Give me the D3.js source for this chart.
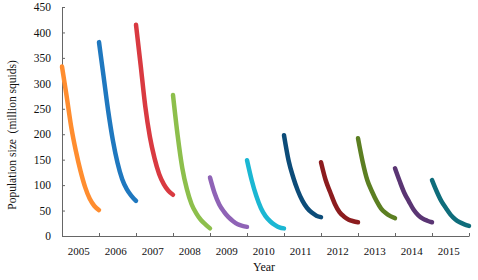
<!DOCTYPE html>
<html>
<head>
<meta charset="utf-8">
<script src="https://cdn.jsdelivr.net/npm/d3@7"></script>
<style>
  body { margin: 0; background: #fff; }
  svg text { font-family: "Liberation Serif", "Times New Roman", serif; fill: #111; }
</style>
</head>
<body>
<div class="chart"></div>
<script>
// Fraction of the year at which each value is sampled
const yearFrac = [0, 0.125, 0.25, 0.375, 0.5, 0.625, 0.75, 0.875, 1]

// Years shown on the x axis
const years = [2005, 2006, 2007, 2008, 2009, 2010, 2011, 2012, 2013, 2014, 2015]

// Population size (million squids) through each season
const pop2005 = [333, 275, 214, 167, 128, 96, 73, 59, 51]
const pop2006 = [381, 313, 245, 188, 144, 112, 92, 79, 69]
const pop2007 = [415, 336, 255, 195, 153, 122, 102, 89, 81]
const pop2008 = [277, 198, 134, 92, 63, 45, 32, 23, 15]
const pop2009 = [115, 84, 62, 48, 37, 29, 23, 20, 18]
const pop2010 = [149, 110, 79, 55, 39, 29, 22, 17, 15]
const pop2011 = [198, 148, 115, 89, 69, 55, 46, 40, 37]
const pop2012 = [145, 110, 86, 63, 47, 38, 32, 29, 27]
const pop2013 = [192, 146, 110, 88, 69, 54, 45, 39, 35]
const pop2014 = [133, 108, 85, 68, 52, 41, 34, 30, 27]
const pop2015 = [110, 88, 69, 55, 42, 33, 27, 23, 20]

const yTicks = [0, 50, 100, 150, 200, 250, 300, 350, 400, 450]

const seasons = [pop2005, pop2006, pop2007, pop2008, pop2009, pop2010,
                 pop2011, pop2012, pop2013, pop2014, pop2015]
const colors = ['#ff8d2f', '#1f78bf', '#d93a41', '#8dbf4c', '#8f63b6', '#1bb7d3',
                '#0c4c79', '#8c1c1e', '#5c7f22', '#5a3573', '#0f6d7b']

const svgWidth = 478
      svgHeight = 280
const svg = d3.select(".chart")
  .append('svg')
  .attr('width', svgWidth)
  .attr('height', svgHeight)

// Scales
const xScale = d3.scaleLinear()
  .domain([2005, 2016])
  .range([62, 469])
const yScale = d3.scaleLinear()
  .domain([0, 450])
  .range([236, 7])

// x axis, ticks at year boundaries, labels in the middle of each year
const xAxis = d3.axisBottom(xScale)
  .tickValues(d3.range(2005, 2017))
  .tickSizeInner(-3)
  .tickSizeOuter(0)
  .tickFormat('')
const gx = svg.append('g')
  .attr('transform', `translate(0, ${yScale(0)})`)
  .call(xAxis)
gx.selectAll('line, path').attr('stroke', '#666')

svg.append('g')
  .selectAll('text')
  .data(years)
  .enter()
  .append('text')
  .attr('x', d => xScale(d + 0.45))
  .attr('y', 255)
  .attr('text-anchor', 'middle')
  .style('font-size', '11px')
  .text(d => d)

// y axis
const yAxis = d3.axisLeft(yScale)
  .tickValues(yTicks)
  .tickSizeInner(-3)
  .tickSizeOuter(0)
  .tickPadding(11)
const gy = svg.append('g')
  .attr('transform', `translate(${xScale(2005)}, 0)`)
  .call(yAxis)
gy.selectAll('line, path').attr('stroke', '#666')
gy.selectAll('text')
  .style('font-family', '"Liberation Serif", serif')
  .style('font-size', '11.5px')
  .attr('fill', '#111')

// Axis titles
svg.append('text')
  .attr('x', 264)
  .attr('y', 271)
  .attr('text-anchor', 'middle')
  .style('font-size', '12px')
  .text('Year')

svg.append('text')
  .attr('transform', 'translate(16, 135) rotate(-90)')
  .attr('text-anchor', 'middle')
  .style('font-size', '11.5px')
  .style('white-space', 'pre')
  .attr('xml:space', 'preserve')
  .text('Population size  (million squids)')

// Season curves
const line = d3.line()
  .x(d => xScale(d.x))
  .y(d => yScale(d.y))
  .curve(d3.curveMonotoneX)

svg.append('g')
  .selectAll('path')
  .data(seasons)
  .enter()
  .append('path')
  .attr('d', (vals, i) => line(vals.map((v, j) => ({ x: years[i] + yearFrac[j], y: v }))))
  .attr('fill', 'none')
  .attr('stroke', (d, i) => colors[i])
  .attr('stroke-width', 4.5)
  .attr('stroke-linecap', 'round')
  .attr('stroke-linejoin', 'round')
</script>
</body>
</html>
